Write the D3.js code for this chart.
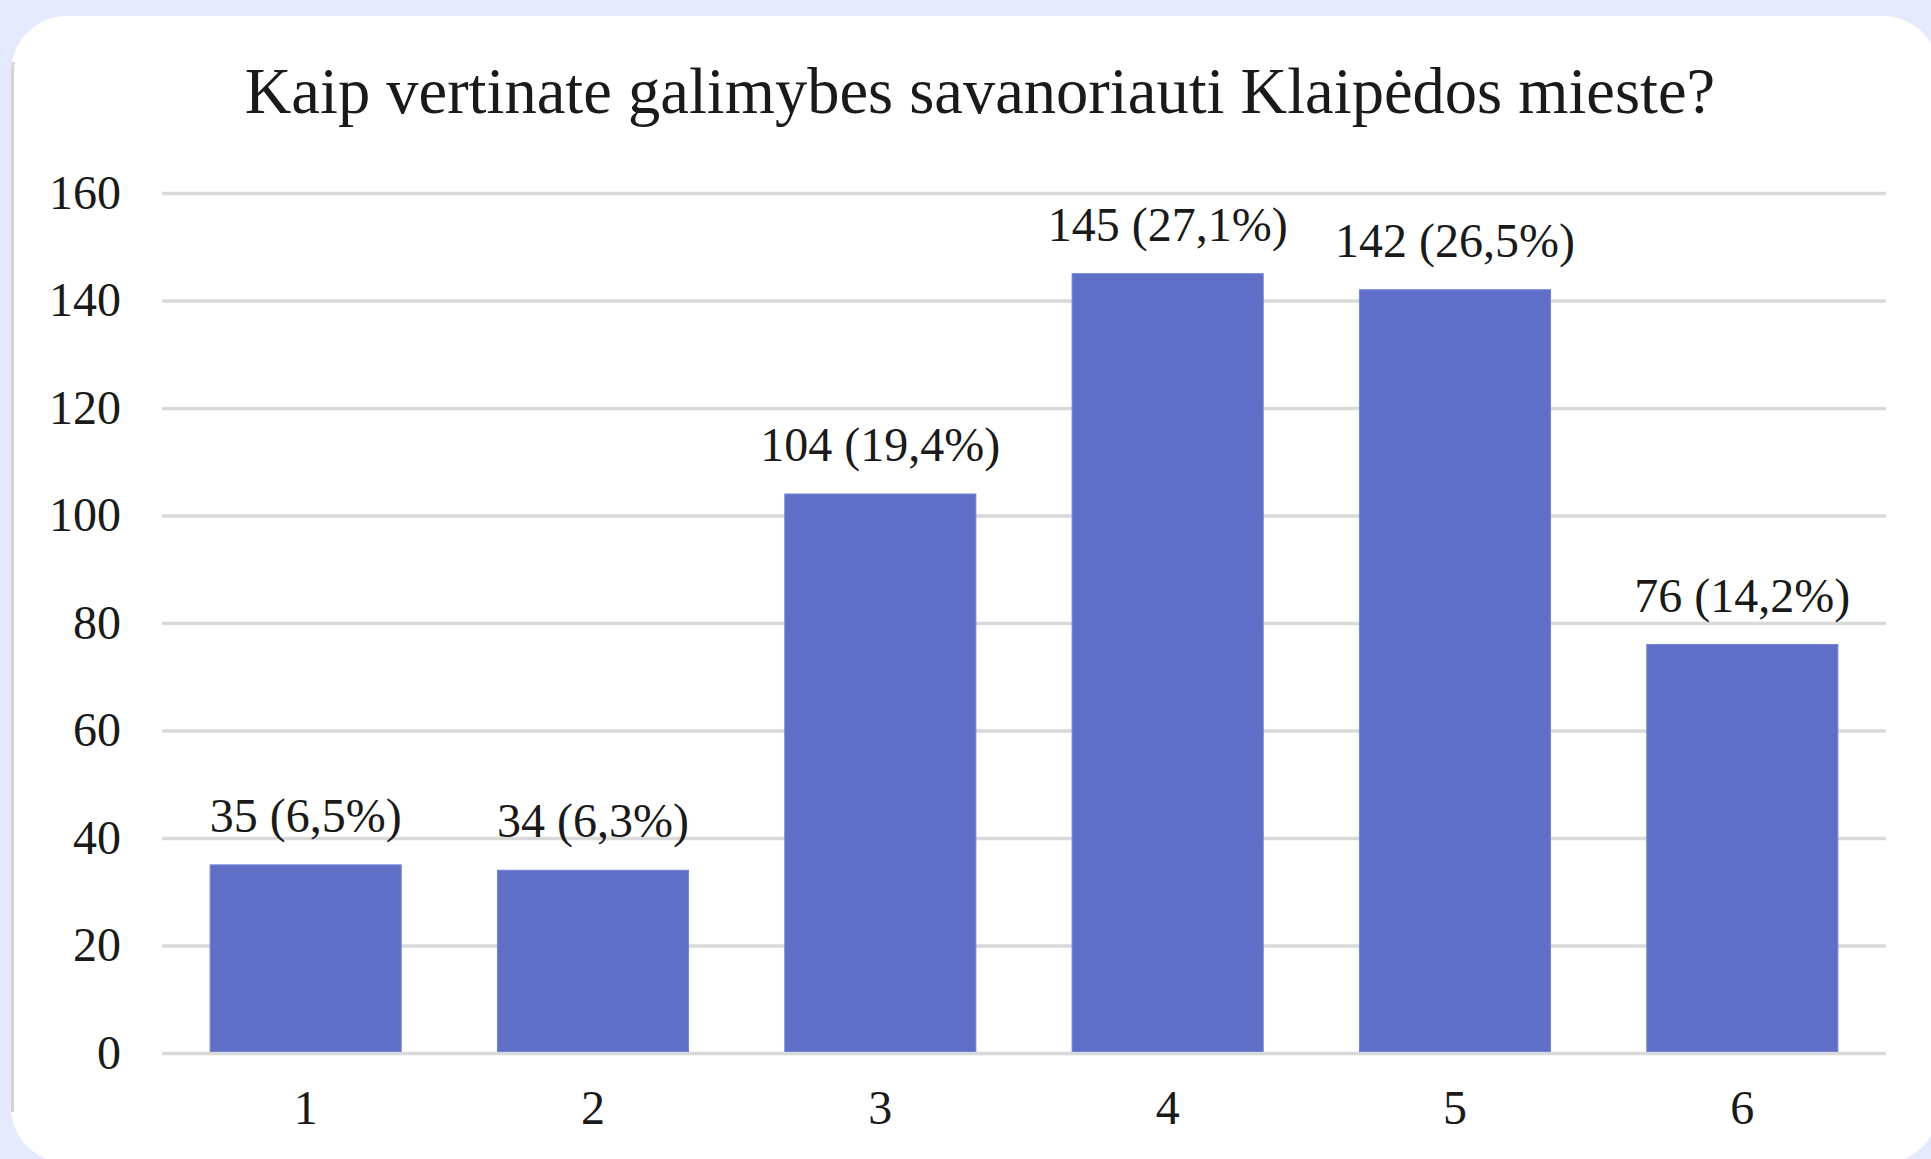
<!DOCTYPE html>
<html lang="lt">
<head>
<meta charset="utf-8">
<title>Kaip vertinate galimybes savanoriauti Klaipėdos mieste?</title>
<script src="https://cdnjs.cloudflare.com/ajax/libs/d3/7.8.5/d3.min.js"></script>
<style>
    html, body { margin: 0; padding: 0; background: #e4e9fb; overflow: hidden; }
    svg { display: block; }
    text { font-family: "Liberation Serif", "Times New Roman", serif; fill: #1a1a1a; }
</style>
</head>
<body>
<div id="chart"></div>
<script>
    // data
    let title = "Kaip vertinate galimybes savanoriauti Klaipėdos mieste?";
    let categories = ["1", "2", "3", "4", "5", "6"];
    let counts = [35, 34, 104, 145, 142, 76];
    let shares = ["6,5%", "6,3%", "19,4%", "27,1%", "26,5%", "14,2%"];
    let yTicks = [0, 20, 40, 60, 80, 100, 120, 140, 160];

    var W = 1931, H = 1159;
    var margin = {top: 193, right: 45, bottom: 106, left: 162},
        width = W - margin.left - margin.right,
        height = H - margin.top - margin.bottom;

    var svg = d3.select("#chart").append("svg")
        .attr("width", W)
        .attr("height", H);

    // card
    svg.append("rect")
        .attr("x", 11).attr("y", 16)
        .attr("width", 1928).attr("height", 1147)
        .attr("rx", 56).attr("ry", 56)
        .attr("fill", "#ffffff");

    svg.append("clipPath").attr("id", "leftEdge")
        .append("rect").attr("x", 0).attr("y", 62).attr("width", 30).attr("height", 1050);
    svg.append("rect")
        .attr("x", 12.5).attr("y", 16)
        .attr("width", 1928).attr("height", 1147)
        .attr("rx", 56).attr("ry", 56)
        .attr("fill", "none")
        .attr("stroke", "#d4d4d6")
        .attr("stroke-width", 3)
        .attr("clip-path", "url(#leftEdge)");

    svg.append("text")
        .attr("x", 980).attr("y", 113)
        .attr("text-anchor", "middle")
        .style("font-size", "64.5px")
        .text(title);

    var g = svg.append("g")
        .attr("transform", "translate(" + margin.left + "," + margin.top + ")");

    var x = d3.scaleBand().domain(categories).range([0, width])
        .paddingInner(0.335).paddingOuter(0.1675);
    var y = d3.scaleLinear().domain([0, 160]).range([height, 0]);

    // y axis with gridlines
    var yAxis = g.append("g")
        .call(d3.axisLeft(y).tickValues(yTicks).tickSize(-width).tickPadding(41));
    yAxis.select(".domain").remove();
    yAxis.selectAll(".tick line")
        .attr("stroke", "#d9d9d9")
        .attr("stroke-width", 3.5);
    yAxis.selectAll(".tick text")
        .style("font-size", "48px")
        .attr("fill", "#1a1a1a");

    // bars
    g.selectAll(".bar")
        .data(counts)
        .enter().append("rect")
        .attr("class", "bar")
        .attr("x", (d, i) => x(categories[i]))
        .attr("y", d => y(d))
        .attr("width", x.bandwidth())
        .attr("height", d => y(0) - y(d) - 1.5)
        .attr("fill", "#5f6fc7")
        .attr("stroke", "#7383d6")
        .attr("stroke-width", 1);

    // value labels
    g.selectAll(".lbl")
        .data(counts)
        .enter().append("text")
        .attr("class", "lbl")
        .attr("x", (d, i) => x(categories[i]) + x.bandwidth() / 2)
        .attr("y", d => y(d) - 33)
        .attr("text-anchor", "middle")
        .style("font-size", "48px")
        .text((d, i) => d + " (" + shares[i] + ")");

    // x axis
    var xAxis = g.append("g")
        .attr("transform", "translate(0," + height + ")")
        .call(d3.axisBottom(x).tickSize(0).tickPadding(37));
    xAxis.select(".domain").remove();
    xAxis.selectAll(".tick text")
        .style("font-size", "48px")
        .attr("fill", "#1a1a1a");
</script>
</body>
</html>
